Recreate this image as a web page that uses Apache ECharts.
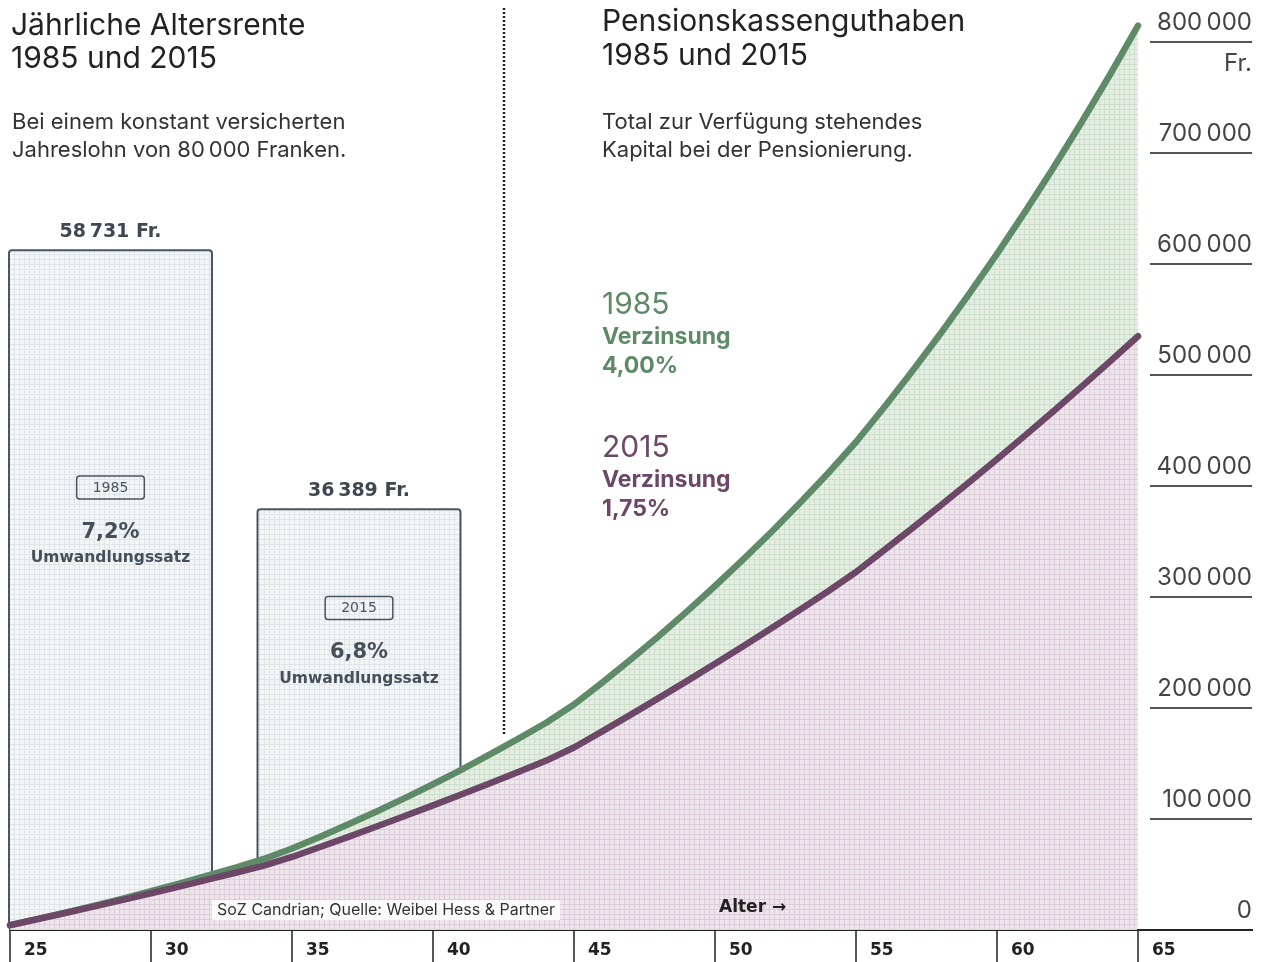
<!DOCTYPE html>
<html>
<head>
<meta charset="utf-8">
<script src="https://cdn.jsdelivr.net/npm/echarts@6/dist/echarts.min.js"></script>
<style>
  html, body { margin: 0; padding: 0; background: #fff; }
  #chart { width: 1263px; height: 962px; }
</style>
</head>
<body>
<div id="chart"></div>
<script>
// Alter (x-Achse)
var ages = [25, 26, 27, 28, 29, 30, 31, 32, 33, 34, 35, 36, 37, 38, 39, 40, 41, 42, 43, 44, 45,
  46, 47, 48, 49, 50, 51, 52, 53, 54, 55, 56, 57, 58, 59, 60, 61, 62, 63, 64, 65];
// Pensionskassenguthaben in Fr.
var capital1985 = [4300, 9900, 15800, 21900, 28300, 34900, 41800, 48900, 56300, 64000, 73400,
  84100, 95200, 106800, 118800, 131300, 144300, 157900, 171900, 186500, 203200,
  222900, 243400, 264700, 286800, 309900, 333800, 358600, 384400, 411300, 439600,
  471000, 503600, 537400, 572600, 609200, 647200, 686700, 727700, 770300, 814700];
var capital2015 = [4300, 9900, 15500, 21300, 27100, 33100, 39100, 45300, 51600, 58000, 65800,
  74800, 83900, 93200, 102700, 112300, 122000, 132000, 142100, 152400, 164400,
  178900, 193800, 208900, 224200, 239900, 255700, 271900, 288300, 305000, 322500,
  342200, 362100, 382500, 403200, 424200, 445600, 467400, 489500, 512000, 534900];
// Jährliche Altersrente
var pensionYears = ['1985', '2015'];
var pension = [58731, 36389];
var conversionRate = ['7,2%', '6,8%'];
var interestRate = ['4,00%', '1,75%'];

var GREEN = '#5e8a68';
var PURPLE = '#6c4768';
var FONT = 'Inter, "Noto Sans", sans-serif';
var WIDE = '"DejaVu Sans", sans-serif';

// feines Millimeterpapier-Muster
function paper(base, line) {
  var c = document.createElement('canvas');
  c.width = 5; c.height = 5;
  var g = c.getContext('2d');
  g.fillStyle = base; g.fillRect(0, 0, 5, 5);
  g.fillStyle = line;
  g.fillRect(4, 0, 1, 5);
  g.fillRect(0, 4, 5, 1);
  return { image: c, repeat: 'repeat' };
}

function fmt(v) {
  return String(v).replace(/\B(?=(\d{3})+(?!\d))/g, '\u2009');
}

var chart = echarts.init(document.getElementById('chart'));

var option = {
  backgroundColor: '#fff',
  animation: false,
  textStyle: { fontFamily: FONT },
  grid: [
    { left: 10, right: 125, top: 42, bottom: 32 },
    { left: 110.5, width: 248.5, top: 42, bottom: 32 }
  ],
  xAxis: [
    {
      type: 'value', gridIndex: 0, min: 25, max: 65, interval: 5,
      axisLine: { show: true, lineStyle: { color: '#222', width: 2 } },
      axisTick: { show: true, length: 36, lineStyle: { color: '#222', width: 1.5 } },
      axisLabel: {
        align: 'left', padding: [0, 0, 0, 14], margin: 12,
        fontFamily: WIDE, fontSize: 17, fontWeight: 'bold', color: '#222'
      },
      splitLine: { show: false }
    },
    { type: 'category', gridIndex: 1, data: pensionYears, boundaryGap: false, show: false }
  ],
  yAxis: [
    {
      type: 'value', gridIndex: 0, position: 'right', offset: 12,
      min: 0, max: 800000, interval: 100000,
      axisLine: { show: false },
      axisTick: { show: true, length: 102, lineStyle: { color: '#555', width: 2 } },
      axisLabel: {
        align: 'right', verticalAlign: 'bottom', margin: 102, padding: [0, 0, 7, 0],
        fontFamily: FONT, fontSize: 24, color: '#444',
        formatter: function (v) { return fmt(v); }
      },
      splitLine: { show: false }
    },
    { type: 'value', gridIndex: 1, min: 0, max: 76600, show: false }
  ],
  series: [
    {
      type: 'bar', xAxisIndex: 1, yAxisIndex: 1, barWidth: 205, z: 1, clip: false,
      data: pension,
      itemStyle: {
        color: paper('#f3f5f7', '#e0e5ea'),
        borderColor: '#4b5560', borderWidth: 2, borderRadius: 3
      },
      label: {
        show: true, position: 'top', distance: 8,
        fontFamily: WIDE, fontSize: 19, fontWeight: 'bold', color: '#3f4852',
        formatter: function (p) { return fmt(p.value) + ' Fr.'; }
      }
    },
    {
      type: 'bar', xAxisIndex: 1, yAxisIndex: 1, barWidth: 205, barGap: '-100%', z: 1, clip: false,
      itemStyle: { color: 'rgba(0,0,0,0)' },
      data: pension.map(function (v, i) {
        return { value: v, label: { offset: [0, i === 0 ? -67 : -76] } };
      }),
      label: {
        show: true, position: 'inside',
        formatter: function (p) {
          return '{yr|' + pensionYears[p.dataIndex] + '}\n{sp| }\n{pct|' +
            conversionRate[p.dataIndex] + '}\n{sub|Umwandlungssatz}';
        },
        rich: {
          yr: { fontFamily: WIDE, fontSize: 14, color: '#4b5560', borderColor: '#4b5560',
            borderWidth: 1.5, borderRadius: 3, padding: [5, 16, 4, 16], align: 'center' },
          sp: { fontSize: 4, lineHeight: 18 },
          pct: { fontFamily: WIDE, fontSize: 21, fontWeight: 'bold', color: '#46505a', lineHeight: 30, align: 'center' },
          sub: { fontFamily: WIDE, fontSize: 15.5, fontWeight: 'bold', color: '#46505a', lineHeight: 22, align: 'center' }
        }
      }
    },
    {
      type: 'line', name: '1985', xAxisIndex: 0, yAxisIndex: 0, z: 3,
      data: ages.map(function (a, i) { return [a, capital1985[i]]; }),
      symbol: 'none', clip: false,
      lineStyle: { color: GREEN, width: 6.5, cap: 'round', join: 'round' },
      areaStyle: { color: paper('#e5eee3', '#cfdfce'), opacity: 1 }
    },
    {
      type: 'line', name: '2015', xAxisIndex: 0, yAxisIndex: 0, z: 4,
      data: ages.map(function (a, i) { return [a, capital2015[i]]; }),
      symbol: 'none', clip: false,
      lineStyle: { color: PURPLE, width: 6.5, cap: 'round', join: 'round' },
      areaStyle: { color: paper('#efe6ed', '#ddcdd9'), opacity: 1 }
    }
  ],
  graphic: [
    { type: 'text', left: 11, top: 9, z: 10,
      style: { text: 'Jährliche Altersrente\n1985 und 2015', font: '30px ' + FONT, fill: '#222', lineHeight: 33 } },
    { type: 'text', left: 12, top: 108, z: 10,
      style: { text: 'Bei einem konstant versicherten\nJahreslohn von 80\u2009000 Franken.', font: '22px ' + FONT, fill: '#333', lineHeight: 28 } },
    { type: 'text', left: 602, top: 5, z: 10,
      style: { text: 'Pensionskassenguthaben\n1985 und 2015', font: '30px ' + FONT, fill: '#222', lineHeight: 34 } },
    { type: 'text', left: 602, top: 108, z: 10,
      style: { text: 'Total zur Verfügung stehendes\nKapital bei der Pensionierung.', font: '22px ' + FONT, fill: '#333', lineHeight: 28 } },
    { type: 'text', left: 602, top: 290, z: 10,
      style: { text: '{y|1985}\n{b|Verzinsung}\n{b|' + interestRate[0] + '}',
        rich: { y: { font: '30px ' + FONT, fill: GREEN, lineHeight: 36 },
                b: { font: 'bold 23px ' + FONT, fill: GREEN, lineHeight: 29 } } } },
    { type: 'text', left: 602, top: 433, z: 10,
      style: { text: '{y|2015}\n{b|Verzinsung}\n{b|' + interestRate[1] + '}',
        rich: { y: { font: '30px ' + FONT, fill: PURPLE, lineHeight: 36 },
                b: { font: 'bold 23px ' + FONT, fill: PURPLE, lineHeight: 29 } } } },
    { type: 'line', z: 10, shape: { x1: 504, y1: 8, x2: 504, y2: 735 },
      style: { stroke: '#222', lineWidth: 2.5, lineDash: [2, 2] } },
    { type: 'line', z: 10, shape: { x1: 1137, y1: 930, x2: 1253, y2: 930 },
      style: { stroke: '#222', lineWidth: 2 } },
    { type: 'text', right: 11, top: 52, z: 10,
      style: { text: 'Fr.', font: '24px ' + FONT, fill: '#444' } },
    { type: 'text', left: 212, top: 900, z: 10,
      style: { text: 'SoZ Candrian; Quelle: Weibel Hess & Partner', font: '16px ' + FONT, fill: '#333',
        backgroundColor: 'rgba(255,255,255,0.85)', padding: [2, 5] } },
    { type: 'text', left: 719, top: 899, z: 10,
      style: { text: 'Alter \u2192', font: 'bold 17px ' + WIDE, fill: '#222' } }
  ]
};

chart.setOption(option);
</script>
</body>
</html>
